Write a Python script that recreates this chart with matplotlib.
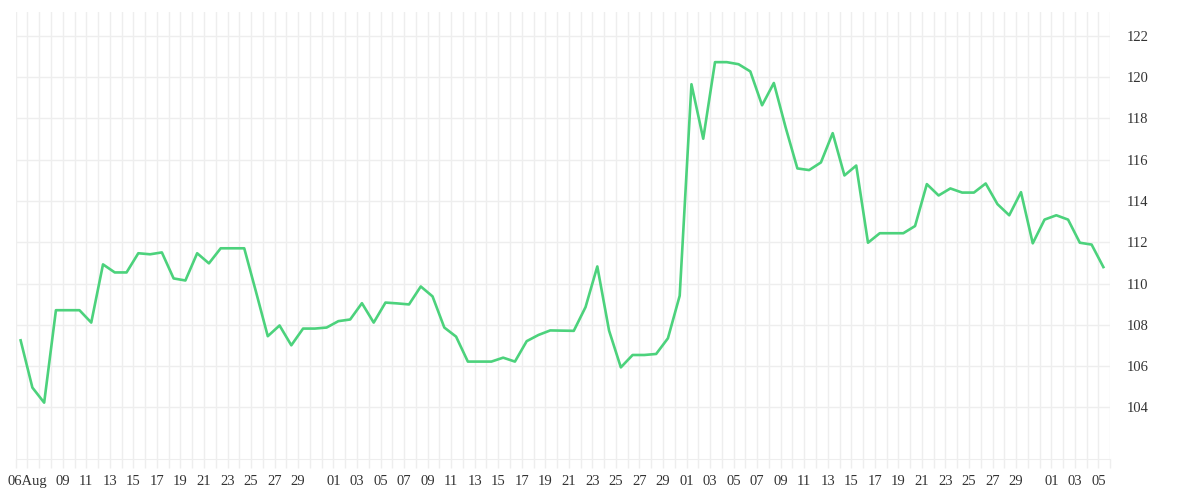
import matplotlib.pyplot as plt
import matplotlib.dates as mdates
import pandas as pd

# daily values, 5 Aug - 5 Nov
values = [107.25, 104.96, 104.23, 108.71, 108.71, 108.71, 108.11, 110.93, 110.54, 110.54,
          111.47, 111.42, 111.51, 110.25, 110.15, 111.47, 110.98, 111.71, 111.71, 111.71,
          109.60, 107.45, 107.97, 107.01, 107.82, 107.82, 107.87, 108.18, 108.26, 109.05,
          108.11, 109.08, 109.04, 108.99, 109.86, 109.38, 107.87, 107.43, 106.22, 106.22,
          106.22, 106.41, 106.22, 107.21, 107.51, 107.73, 107.72, 107.71, 108.86, 110.83,
          107.72, 105.94, 106.54, 106.54, 106.59, 107.35, 109.41, 119.66, 117.02, 120.73,
          120.73, 120.63, 120.28, 118.64, 119.72, 117.57, 115.58, 115.50, 115.87, 117.29,
          115.24, 115.72, 111.98, 112.44, 112.44, 112.44, 112.79, 114.82, 114.27, 114.61,
          114.41, 114.41, 114.85, 113.85, 113.31, 114.43, 111.95, 113.10, 113.31, 113.10,
          111.98, 111.89, 110.80]
dates = pd.date_range('2019-08-05 10:00', periods=len(values), freq='D')

tick_dates = pd.to_datetime(['2019-08-06'] + ['2019-08-%02d' % d for d in range(9, 30, 2)]
                            + ['2019-09-%02d' % d for d in range(1, 30, 2)]
                            + ['2019-10-%02d' % d for d in range(1, 30, 2)]
                            + ['2019-11-%02d' % d for d in range(1, 6, 2)])
tick_labels = ['06Aug'] + [t.strftime('%d') for t in tick_dates[1:]]

grid_col = '#eeeeee'
plt.rcParams['font.family'] = ['Liberation Serif', 'DejaVu Serif']

fig = plt.figure(figsize=(12, 5), dpi=100)
ax = fig.add_axes([0.0131, 0.082, 0.9121, 0.894])

ax.plot(dates, values, color='#4cd27c', lw=1.9, zorder=3)

ax.set_xlim(pd.Timestamp('2019-08-05'), pd.Timestamp('2019-11-06'))
ax.set_ylim(101.5, 123.16)

ax.xaxis.set_minor_locator(mdates.DayLocator())
ax.set_xticks(tick_dates)
ax.set_xticklabels(tick_labels)
ax.set_yticks(range(104, 123, 2))

ax.grid(True, which='both', axis='x', color=grid_col, lw=1)
ax.grid(True, which='major', axis='y', color=grid_col, lw=1)
ax.set_axisbelow(True)

ax.tick_params(axis='x', which='both', length=6.5, color=grid_col, width=1,
               labelsize=10.5, labelcolor='#333333', pad=5)
ax.yaxis.tick_right()
ax.tick_params(axis='y', length=0, labelsize=10.5, labelcolor='#333333', pad=12)

for s in ['top', 'left', 'right']:
    ax.spines[s].set_visible(False)
ax.spines['bottom'].set_color(grid_col)

plt.savefig('out.png')
